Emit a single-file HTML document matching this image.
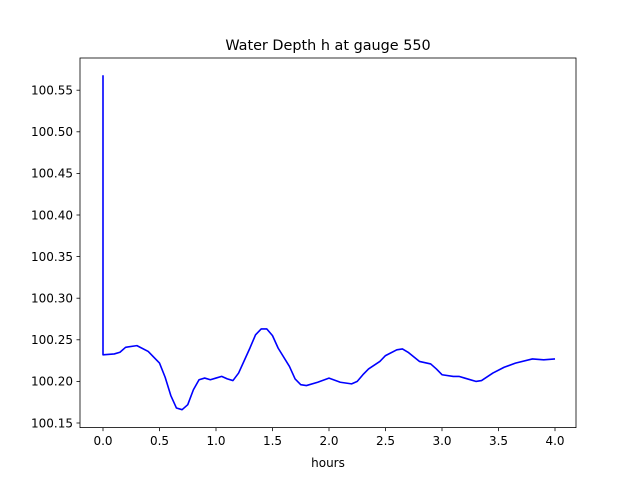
<!DOCTYPE html>
<html><head><meta charset="utf-8"><style>
body{margin:0;background:#fff;}
svg{font-family:"DejaVu Sans","Liberation Sans",sans-serif;}
</style></head><body>
<svg id="chart" width="640" height="480" xmlns="http://www.w3.org/2000/svg">
<rect width="640" height="480" fill="#fff"/>
<text x="328" y="50" font-size="14.4" text-anchor="middle">Water Depth h at gauge 550</text>
<g id="ticks"></g>
<path id="line" fill="none" stroke="#0000ff" stroke-width="1.6" stroke-linejoin="round"/>
<rect x="80" y="58" width="496" height="369.6" fill="none" stroke="#000" stroke-width="0.8"/>
<text x="328" y="467" font-size="12" text-anchor="middle">hours</text>
</svg>
<script>
const hours=[0,0,0.1,0.15,0.2,0.3,0.4,0.5,0.55,0.6,0.65,0.7,0.75,0.8,0.85,0.9,0.95,1.0,1.05,1.1,1.15,1.2,1.3,1.35,1.4,1.45,1.5,1.55,1.65,1.7,1.75,1.8,1.9,2.0,2.1,2.2,2.25,2.3,2.35,2.45,2.5,2.6,2.65,2.7,2.8,2.9,2.95,3.0,3.1,3.15,3.2,3.3,3.35,3.45,3.55,3.65,3.8,3.9,4.0];
const depth=[100.568,100.232,100.233,100.235,100.241,100.243,100.236,100.222,100.205,100.183,100.168,100.166,100.172,100.19,100.202,100.204,100.202,100.204,100.206,100.203,100.201,100.21,100.24,100.256,100.263,100.263,100.255,100.24,100.218,100.203,100.196,100.195,100.199,100.204,100.199,100.197,100.2,100.208,100.215,100.224,100.231,100.238,100.239,100.235,100.224,100.221,100.215,100.208,100.206,100.206,100.204,100.2,100.201,100.21,100.217,100.222,100.227,100.226,100.227];
const xTicks=[0,0.5,1,1.5,2,2.5,3,3.5,4];
const yTicks=[100.15,100.2,100.25,100.3,100.35,100.4,100.45,100.5,100.55];
const X=t=>103+t*113, Y=v=>423-(v-100.15)/0.05*41.6;
const ns="http://www.w3.org/2000/svg", g=document.getElementById('ticks');
function mk(tag,a){const e=document.createElementNS(ns,tag);for(const k in a)e.setAttribute(k,a[k]);g.appendChild(e);return e;}
xTicks.forEach(t=>{
 const l=mk('line',{x1:X(t),x2:X(t),y1:427.6,y2:431.1,stroke:'#000','stroke-width':0.8});
 
 
 const s=mk('text',{x:X(t),y:445,'font-size':12,'text-anchor':'middle'});s.textContent=t.toFixed(1);
 
 
});
yTicks.forEach(v=>{
 const l=mk('line',{x1:76.5,x2:80,y1:Y(v),y2:Y(v),stroke:'#000','stroke-width':0.8});
 
 
 const s=mk('text',{x:73,y:Y(v)+4.3,'font-size':12,'text-anchor':'end'});s.textContent=v.toFixed(2);
 
 
});
document.getElementById('line').setAttribute('d',hours.map((t,i)=>(i?'L':'M')+X(t)+' '+Y(depth[i])).join(' '));
</script>
</body></html>
